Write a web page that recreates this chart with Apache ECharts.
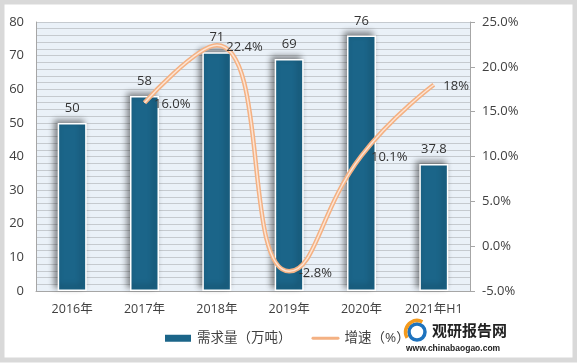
<!DOCTYPE html>
<html><head><meta charset="utf-8">
<script src="https://cdn.jsdelivr.net/npm/echarts@6/dist/echarts.min.js"></script>
<style>html,body{margin:0;padding:0;background:#fff}#c{width:577px;height:363px}</style>
</head><body><div id="c"></div>
<script>
var categories = ['2016年','2017年','2018年','2019年','2020年','2021年H1'];
var demand = [50, 58, 71, 69, 76, 37.8];
var growth = [null, 16.0, 22.4, -2.8, 10.1, 18];
var growthLabels = ['', '16.0%', '22.4%', '-2.8%', '10.1%', '18%'];
var barName = '需求量（万吨）';
var lineName = '增速（%）';

var chart = echarts.init(document.getElementById('c'));
var font = '"Open Sans","Noto Sans CJK SC",sans-serif';
chart.setOption({
  backgroundColor: '#fff',
  animation: false,
  textStyle: {fontFamily: font},
  grid: {left: 36, right: 107, top: 22, bottom: 72, show: true, backgroundColor: '#EAF1F8', borderWidth: 0},
  legend: {
    data: [{name: barName, icon: 'rect'},
           {name: lineName, icon: 'path://M2,0 H38 A2,2 0 0 1 38,4 H2 A2,2 0 0 1 2,0 Z', itemStyle: {color: '#F4B183'}}],
    bottom: 13, left: 158,
    itemWidth: 28, itemHeight: 9, itemGap: 20,
    textStyle: {fontSize: 13.5, color: '#404040', fontFamily: font}
  },
  xAxis: {
    type: 'category', data: categories,
    axisLine: {lineStyle: {color: '#A6A6A6'}},
    axisTick: {show: false},
    axisLabel: {fontSize: 12.5, color: '#404040', margin: 12, interval: 0}
  },
  yAxis: [{
    type: 'value', min: 0, max: 80, interval: 10,
    axisLine: {show: true, lineStyle: {color: '#A6A6A6'}},
    axisTick: {show: false},
    axisLabel: {fontSize: 13, color: '#404040', margin: 12},
    splitLine: {show: true, lineStyle: {color: '#C5CACF', width: 1}},
    minorTick: {show: false, splitNumber: 5},
    minorSplitLine: {show: true, lineStyle: {color: '#C5CACF', width: 1}}
  }, {
    type: 'value', min: -5, max: 25, interval: 5,
    axisLine: {show: true, lineStyle: {color: '#A6A6A6'}},
    axisTick: {show: true, length: 5, lineStyle: {color: '#A6A6A6'}},
    axisLabel: {fontSize: 13, color: '#404040', margin: 12, formatter: function (v) { return v.toFixed(1) + '%'; }},
    splitLine: {show: false}
  }],
  series: [{
    name: barName, type: 'bar', data: demand, barWidth: 29,
    itemStyle: {color: '#1B6589', borderColor: '#fff', borderWidth: 1.5,
      shadowColor: 'rgba(0,0,0,0.45)', shadowBlur: 6, shadowOffsetX: -3, shadowOffsetY: -3},
    label: {show: true, position: 'top', distance: 8, fontSize: 13, color: '#333'}
  }, {
    name: lineName, type: 'line', yAxisIndex: 1, data: growth, smooth: 0.5,
    symbol: 'none', lineStyle: {color: '#F4B183', width: 4.5},
    itemStyle: {color: '#F4B183'},
    z: 3
  }, {
    name: 'inner', type: 'line', yAxisIndex: 1, data: growth, smooth: 0.5,
    symbol: 'circle', symbolSize: 1, showSymbol: true,
    lineStyle: {color: '#FCE4D4', width: 1.5},
    itemStyle: {color: 'rgba(0,0,0,0)'},
    label: {show: true, position: 'right', distance: 9, offset: [0, 2], fontSize: 13, color: '#333',
      formatter: function (p) { return growthLabels[p.dataIndex]; }},
    z: 4
  }],
  graphic: [
    {type: 'rect', shape: {x: 2, y: 2, width: 573, height: 358}, style: {fill: 'none', stroke: '#D9D9D9', lineWidth: 5}, z: 100},
    {type: 'circle', shape: {cx: 417, cy: 332, r: 8}, style: {fill: 'none', stroke: '#1E73BE', lineWidth: 3.5}, z: 100},
    {type: 'arc', shape: {cx: 417, cy: 332, r: 11.5, startAngle: 2.6, endAngle: 5.2}, style: {fill: 'none', stroke: '#F39A1E', lineWidth: 3.5}, z: 101},
    {type: 'text', x: 432, y: 323, style: {text: '观研报告网', fontSize: 15, fontWeight: 'bold', fill: '#222', fontFamily: '"Noto Sans CJK SC",sans-serif'}, z: 100},
    {type: 'text', x: 406, y: 344, style: {text: 'www.chinabaogao.com', fontSize: 8.5, fontWeight: 'bold', fill: '#222', fontFamily: 'Arial,"Liberation Sans",sans-serif'}, z: 100}
  ]
});
</script></body></html>
